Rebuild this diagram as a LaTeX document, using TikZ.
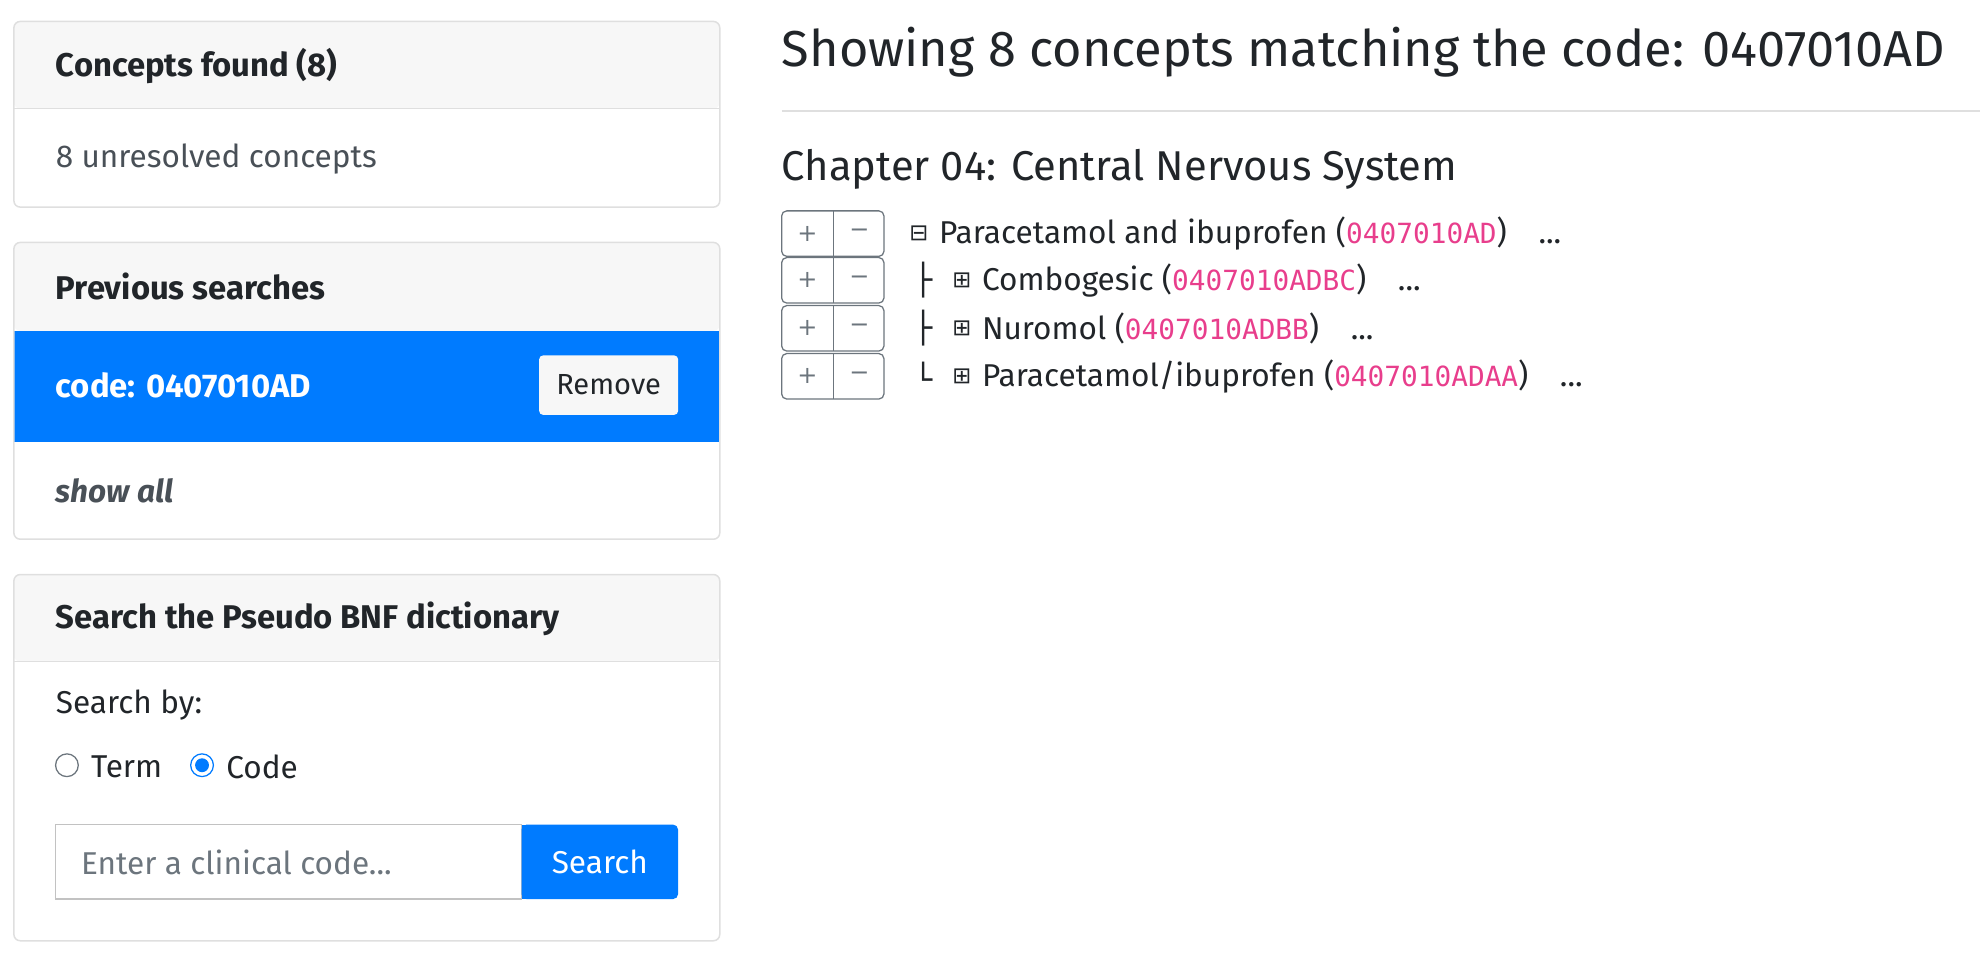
\documentclass[tikz,border=0pt]{standalone}
\usepackage{fontspec}
\setmainfont{Fira Sans}
\newfontfamily\codefont{DejaVu Sans Mono}
\newfontfamily\symfont{DejaVu Sans}
\usetikzlibrary{positioning}
\definecolor{cardline}{HTML}{DFDFDF}
\definecolor{cardhead}{HTML}{F7F7F7}
\definecolor{bsblue}{HTML}{007BFF}
\definecolor{bsgray}{HTML}{495057}
\definecolor{bspink}{HTML}{E83E8C}
\definecolor{btnline}{HTML}{6C757D}
\definecolor{txt}{HTML}{212529}

\begin{document}
\begin{tikzpicture}[x=1pt, y=-1pt,
    every node/.style={inner sep=0pt, anchor=west, text=txt},
    card/.style={draw=cardline, line width=1.2pt, rounded corners=5pt},
    headtxt/.style={font=\fontsize{26}{30}\selectfont\bfseries},
    bodytxt/.style={font=\fontsize{25}{30}\selectfont},
    pm/.style={anchor=center, text=btnline, font=\fontsize{19}{24}\symfont}
]
\useasboundingbox (0,0) rectangle (1568,762);

% Card: concepts found
\fill[cardhead, rounded corners=5pt] (11,17) rectangle (570,86);
\draw[cardline, line width=1.2pt] (11,86) -- (570,86);
\draw[card] (11,17) rectangle (570,164);
\node[headtxt] (found) at (44,52) {Concepts found (8)};
\node[text=bsgray, font=\fontsize{25}{30}\selectfont\mdseries] (unres) at (44,126) {8 unresolved concepts};

% Card: previous searches
\fill[cardhead, rounded corners=5pt] (11,192) rectangle (570,262);
\fill[bsblue] (11,262) rectangle (570,350);
\draw[card] (11,192) rectangle (570,427);
\node[headtxt] (prev) at (44,227) {Previous searches};
\node[headtxt, text=white] (search1) at (44,305) {code: 0407010AD};
\node[fill=cardhead, rounded corners=3pt, minimum width=110pt, minimum height=47pt, anchor=center, font=\fontsize{23}{28}\selectfont] (remove) at (482,305) {Remove};
\node[text=bsgray, font=\fontsize{25}{30}\selectfont\bfseries\itshape] (showall) at (44,389) {show all};

% Card: search dictionary
\fill[cardhead, rounded corners=5pt] (11,455) rectangle (570,524);
\draw[cardline, line width=1.2pt] (11,524) -- (570,524);
\draw[card] (11,455) rectangle (570,745);
\node[headtxt] (dict) at (44,490) {Search the Pseudo BNF dictionary};
\node[bodytxt] (by) at (44,558) {Search by:};
\draw[btnline, line width=1pt] (53,606) circle (9);
\node[bodytxt] (term) at (72,607) {Term};
\draw[bsblue, line width=1pt, fill=white] (160,606) circle (9);
\fill[bsblue] (160,606) circle (5.5);
\node[bodytxt] (codeopt) at (179,607) {Code};
\node[draw=cardline!70!gray, line width=1pt, minimum width=369pt, minimum height=59pt, anchor=center] (input) at (228.5,682.5) {};
\node[bodytxt, text=btnline] (placeholder) at (64,683) {Enter a clinical code...};
\node[fill=bsblue, rounded corners=4pt, minimum width=124pt, minimum height=59pt, anchor=center, text=white, bodytxt] (searchbtn) at (475,682.5) {Search};
\fill[bsblue] (413,653) rectangle (425,712);

% Results
\node[font=\fontsize{40}{48}\selectfont] (title) at (619,41) {Showing 8 concepts matching the code: 0407010AD};
\draw[cardline, line width=1.2pt] (619,88) -- (1568,88);
\node[font=\fontsize{33}{40}\selectfont] (chapter) at (619,134) {Chapter 04: Central Nervous System};

% Tree rows
\foreach \y/\br/\sym/\name/\cd/\dx in {185//⊟/Paracetamol and ibuprofen/0407010AD/0,
                                  222/├/⊞/Combogesic/0407010ADBC/34,
                                  260/├/⊞/Nuromol/0407010ADBB/34,
                                  298/└/⊞/Paracetamol\slash ibuprofen/0407010ADAA/34} {
  \draw[btnline, line width=1pt, rounded corners=4pt] (619,\y-18) rectangle (700,\y+18);
  \draw[btnline, line width=1pt] (660,\y-18) -- (660,\y+18);
  \node[pm] at (639.5,\y) {+};
  \node[pm] at (680.5,\y) {−};
  \node[font=\fontsize{24}{28}\symfont] at (724,\y) {\br};
  \node[font=\fontsize{18}{22}\symfont] (s\y) at (720+\dx,\y) {\sym};
  \node[bodytxt, right=8pt of s\y] (t\y) {\name\ (\textcolor{bspink}{\fontsize{22}{26}\codefont\cd})\quad ...};
}
\end{tikzpicture}
\end{document}
